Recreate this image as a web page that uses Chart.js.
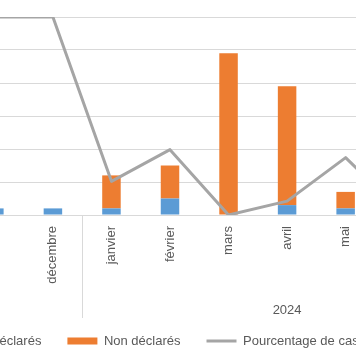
<!DOCTYPE html>
<html>
<head>
<meta charset="utf-8">
<script src="https://cdn.jsdelivr.net/npm/chart.js@4"></script>
<style>
html,body{margin:0;padding:0;background:#fff;overflow:hidden;width:356px;height:364px;position:relative}
canvas{position:absolute;left:-192px;top:0}
</style>
</head>
<body>
<canvas id="c" width="749" height="364"></canvas>
<script>
// ---- data ----
const months = ['septembre','octobre','novembre','décembre','janvier','février','mars','avril','mai','juin','juillet'];
const years = ['2023','2024'];
const monthsPerYear = [4, 7];
const declared    = [null, null, 2, 2, 2, 5, 0, 3, 2, null, null];
const nonDeclared = [null, null, 0, 0, 10, 10, 49, 36, 5, null, null];
const pctDeclared = [null, null, 1, 1, 0.17, 0.33, 0, 0.07, 0.29, 0, null];
const seriesNames = ['Déclarés', 'Non déclarés', 'Pourcentage de cas déclarés'];
const countTicks = {min: 0, max: 60, step: 10};
const pctTicks = {min: 0, max: 1};

const FONT = "'Liberation Sans', Arial, sans-serif";
const TXT = '#595959';
const GRID = '#d9d9d9';

Chart.defaults.font.family = FONT;
Chart.defaults.font.size = 13;
Chart.defaults.color = TXT;

const yearGroups = {
  id: 'yearGroups',
  afterDraw(chart) {
    const x = chart.scales.x;
    const ctx = chart.ctx;
    const n = months.length;
    const edges = [x.left];
    let count = 0;
    monthsPerYear.forEach(c => {
      count += c;
      edges.push(count >= n ? x.right : (x.getPixelForValue(count - 1) + x.getPixelForValue(count)) / 2);
    });
    ctx.save();
    ctx.strokeStyle = GRID;
    ctx.lineWidth = 1;
    edges.forEach(e => {
      const px = Math.round(e) + 0.5;
      ctx.beginPath();
      ctx.moveTo(px, x.top);
      ctx.lineTo(px, x.top + 103);
      ctx.stroke();
    });
    ctx.fillStyle = TXT;
    ctx.font = '13px ' + FONT;
    ctx.textAlign = 'center';
    ctx.textBaseline = 'middle';
    years.forEach((yr, i) => ctx.fillText(yr, (edges[i] + edges[i + 1]) / 2, x.top + 95));
    ctx.restore();
  }
};

new Chart(document.getElementById('c'), {
  type: 'bar',
  data: {
    labels: months,
    datasets: [
      {label: seriesNames[0], data: declared, backgroundColor: '#5b9bd5', borderWidth: 0,
       barPercentage: 0.316, categoryPercentage: 1, pointStyle: 'rect', order: 1},
      {label: seriesNames[1], data: nonDeclared, backgroundColor: '#ed7d31', borderWidth: 0,
       barPercentage: 0.316, categoryPercentage: 1, pointStyle: 'rect', order: 1},
      {label: seriesNames[2], data: pctDeclared, type: 'line', yAxisID: 'y1',
       borderColor: '#a5a5a5', backgroundColor: '#a5a5a5', borderWidth: 3,
       pointRadius: 0, tension: 0, borderJoinStyle: 'round', borderCapStyle: 'round',
       pointStyle: 'line', order: 0}
    ]
  },
  options: {
    responsive: false,
    animation: false,
    layout: {padding: {top: 17, bottom: 6.5, left: 0, right: 0}},
    plugins: {
      tooltip: {enabled: false},
      legend: {
        position: 'bottom',
        labels: {
          usePointStyle: true, pointStyleWidth: 30, boxHeight: 7, padding: 26,
          color: TXT, font: {size: 13, family: FONT},
          sort: (a, b) => a.datasetIndex - b.datasetIndex
        }
      }
    },
    scales: {
      x: {
        stacked: true,
        grid: {display: false, drawTicks: false},
        border: {display: false},
        ticks: {maxRotation: 90, minRotation: 90, autoSkip: false, padding: 11, color: TXT, font: {size: 13}},
        afterFit: s => { s.height = 93.5; }
      },
      y: {
        stacked: true,
        min: countTicks.min, max: countTicks.max,
        ticks: {stepSize: countTicks.step, color: TXT},
        grid: {color: GRID, lineWidth: 1, drawTicks: false},
        border: {display: false},
        afterFit: s => { s.width = 40; }
      },
      y1: {
        position: 'right',
        min: pctTicks.min, max: pctTicks.max,
        ticks: {stepSize: 0.2, color: TXT, callback: v => Math.round(v * 100) + ' %'},
        grid: {display: false},
        border: {display: false},
        afterFit: s => { s.width = 65; }
      }
    }
  },
  plugins: [yearGroups]
});
</script>
</body>
</html>
